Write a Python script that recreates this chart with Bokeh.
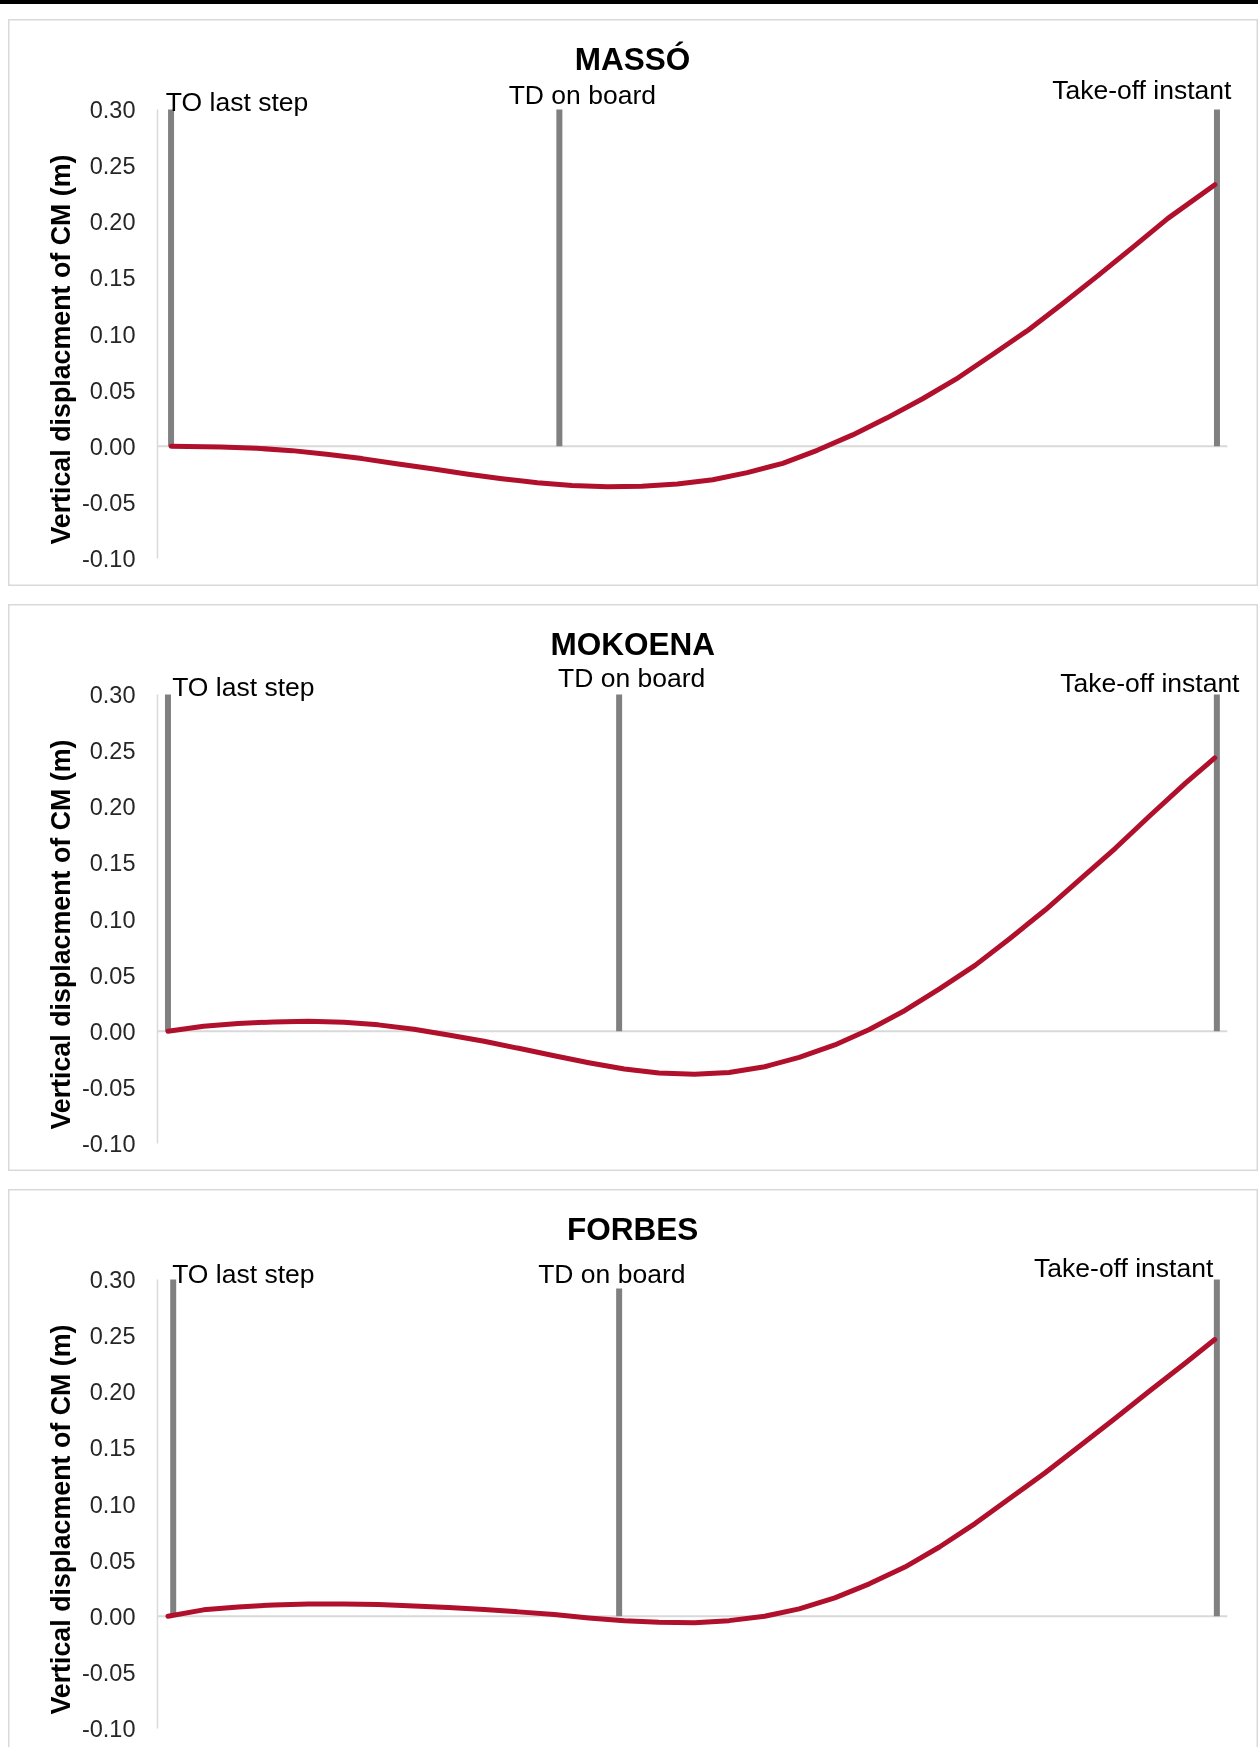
from bokeh.plotting import figure
from bokeh.models import (Range1d, FixedTicker, PrintfTickFormatter, Label, Title,
                          Div, Spacer, ColumnDataSource)
from bokeh.layouts import column
from bokeh.embed import file_html
from bokeh.resources import INLINE

# ---------------- data ----------------
athletes = ["MASSÓ", "MOKOENA", "FORBES"]
event_names = ["TO last step", "TD on board", "Take-off instant"]
y_title = "Vertical displacment of CM (m)"

# abscissa: % of time between TO of last step (0) and take-off (100)
masso_t = [0, 4.8, 8.2, 11.6, 14.9, 18.3, 21.6, 25.0, 28.3, 31.7, 35.1, 38.4,
           41.8, 45.1, 48.5, 51.9, 55.2, 58.6, 61.9, 65.3, 68.6, 72.0, 75.4,
           78.7, 82.1, 85.4, 88.8, 92.1, 95.5, 100]
masso_y = [0, -0.0006, -0.0018, -0.0039, -0.0072, -0.0110, -0.0155, -0.0200,
           -0.0247, -0.0289, -0.0325, -0.0349, -0.0360, -0.0357, -0.0337,
           -0.0298, -0.0235, -0.0152, -0.0036, 0.0101, 0.0253, 0.0423, 0.0610,
           0.0817, 0.1034, 0.1270, 0.1520, 0.1770, 0.2030, 0.2330]

mokoena_t = [0, 3.4, 6.7, 10.1, 13.4, 16.8, 20.1, 23.5, 26.8, 30.2, 33.5, 36.9,
             40.2, 43.6, 46.9, 50.3, 53.6, 57.0, 60.3, 63.7, 67.0, 70.4, 73.7,
             77.1, 80.4, 83.8, 87.1, 90.5, 93.8, 97.2, 100]
mokoena_y = [0, 0.0045, 0.0069, 0.0083, 0.0089, 0.0080, 0.0057, 0.0018,
             -0.0033, -0.0089, -0.0152, -0.0218, -0.0280, -0.0337, -0.0372,
             -0.0384, -0.0367, -0.0316, -0.0232, -0.0122, 0.0015, 0.0185,
             0.0378, 0.0587, 0.0825, 0.1080, 0.1350, 0.1630, 0.1920, 0.2210,
             0.2435]

forbes_t = [0, 3.4, 6.7, 10.1, 13.4, 16.8, 20.1, 23.5, 26.8, 30.2, 33.5, 36.9,
            40.2, 43.6, 46.9, 50.3, 53.6, 57.0, 60.3, 63.7, 67.0, 70.4, 73.7,
            77.1, 80.4, 83.8, 87.1, 90.5, 93.8, 97.2, 100]
forbes_y = [0, 0.0057, 0.0083, 0.0101, 0.0110, 0.0110, 0.0104, 0.0092, 0.0077,
            0.0060, 0.0039, 0.0015, -0.0015, -0.0039, -0.0054, -0.0057,
            -0.0039, 0.0000, 0.0066, 0.0164, 0.0289, 0.0438, 0.0617, 0.0826,
            0.1049, 0.1279, 0.1517, 0.1764, 0.2009, 0.2256, 0.2465]

# event markers (% of time) and their drawn heights (m)
masso_events = [0.0, 37.2, 100.2]
mokoena_events = [0.0, 43.1, 100.2]
forbes_events = [0.5, 43.1, 100.2]
masso_event_top = [0.30, 0.30, 0.30]
mokoena_event_top = [0.30, 0.30, 0.30]
forbes_event_top = [0.30, 0.292, 0.30]

y_ticks = [-0.10, -0.05, 0.00, 0.05, 0.10, 0.15, 0.20, 0.25, 0.30]

# ---------------- styling / layout ----------------
FONT = "Liberation Sans"
CURVE = "#B0102C"
BAR = "#808080"
LIGHT = "#d9d9d9"

panels = [
    dict(name=athletes[0], t=masso_t, y=masso_y, ev=masso_events, top=masso_event_top,
         x0=-1.3, h=567,
         lab=[(-0.5, 0.3068, "left"), (39.4, 0.3127, "center"), (93.0, 0.3177, "center")],
         title_x=44.2),
    dict(name=athletes[1], t=mokoena_t, y=mokoena_y, ev=mokoena_events, top=mokoena_event_top,
         x0=-1.0, h=567,
         lab=[(0.4, 0.3063, "left"), (44.3, 0.3143, "center"), (93.8, 0.3103, "center")],
         title_x=44.4),
    dict(name=athletes[2], t=forbes_t, y=forbes_y, ev=forbes_events, top=forbes_event_top,
         x0=-1.0, h=558,
         lab=[(0.4, 0.3049, "left"), (42.4, 0.3049, "center"), (91.3, 0.3099, "center")],
         title_x=44.4),
]

W = 1250
FRAME_TOP = 0.3802   # room above the 0.30 tick for title and event labels
X_END = 103.7
ZERO_END = 101.2

figs = []
for i, pd_ in enumerate(panels):
    last = (i == len(panels) - 1)
    shadow = ("inset 0 0 0 1.5px " + LIGHT) if not last else \
             ("inset 1.5px 1.5px 0 0 " + LIGHT + ", inset -1.5px 0 0 0 " + LIGHT)
    p = figure(width=W, height=pd_["h"], output_backend="svg", toolbar_location=None,
               x_range=Range1d(pd_["x0"], X_END), y_range=Range1d(-0.10, FRAME_TOP),
               x_axis_type=None, min_border_left=149, min_border_right=5,
               min_border_top=0, min_border_bottom=pd_["h"] - 539,
               styles={"box-shadow": shadow})
    p.title.visible = False
    p.outline_line_color = None
    p.border_fill_color = None
    p.background_fill_color = None
    p.xgrid.visible = False
    p.ygrid.visible = False

    ax = p.yaxis[0]
    ax.bounds = (-0.10, 0.30)
    ax.ticker = FixedTicker(ticks=y_ticks)
    ax.formatter = PrintfTickFormatter(format="%.2f")
    ax.major_tick_line_color = None
    ax.minor_tick_line_color = None
    ax.major_tick_out = 0
    ax.major_tick_in = 0
    ax.axis_line_color = LIGHT
    ax.axis_line_width = 1.5
    ax.major_label_standoff = 22
    ax.major_label_text_font = FONT
    ax.major_label_text_font_size = "23.5px"
    ax.major_label_text_color = "#262626"

    # y-axis title, anchored near the 0.30 end like the original
    p.add_layout(Title(text=y_title, align="right", offset=135, standoff=6,
                       text_font=FONT, text_font_size="26.8px", text_font_style="bold",
                       text_color="#000000"), "left")

    # zero line
    p.segment(x0=[pd_["x0"]], y0=[0.0], x1=[ZERO_END], y1=[0.0],
              line_color=LIGHT, line_width=2)

    # event bars
    src_ev = ColumnDataSource(dict(x=pd_["ev"], top=pd_["top"], zero=[0.0] * 3))
    p.segment(x0="x", y0="zero", x1="x", y1="top", source=src_ev,
              line_color=BAR, line_width=6, line_cap="butt")

    # CM vertical displacement curve
    p.line(pd_["t"], pd_["y"], line_color=CURVE, line_width=5,
           line_cap="round", line_join="round")

    # event labels
    for (lx, ly, al), txt in zip(pd_["lab"], event_names):
        p.add_layout(Label(x=lx, y=ly, text=txt, text_align=al,
                           text_baseline="middle", text_font=FONT,
                           text_font_size="26.5px", text_color="#000000"))
    # panel title
    p.add_layout(Label(x=pd_["title_x"], y=0.345, text=pd_["name"],
                       text_align="center", text_baseline="middle",
                       text_font=FONT, text_font_size="31.5px",
                       text_font_style="bold", text_color="#000000"))
    figs.append(p)

topbar = Div(text='<div style="position:fixed;top:0;left:0;width:100vw;height:4px;'
                  'background:#000;"></div>', width=10, height=1, margin=0)

layout = column(topbar, Spacer(height=18), figs[0], Spacer(height=18), figs[1],
                Spacer(height=18), figs[2], spacing=0, margin=(0, 0, 0, 8))

open("out.html", "w").write(file_html(layout, INLINE))
